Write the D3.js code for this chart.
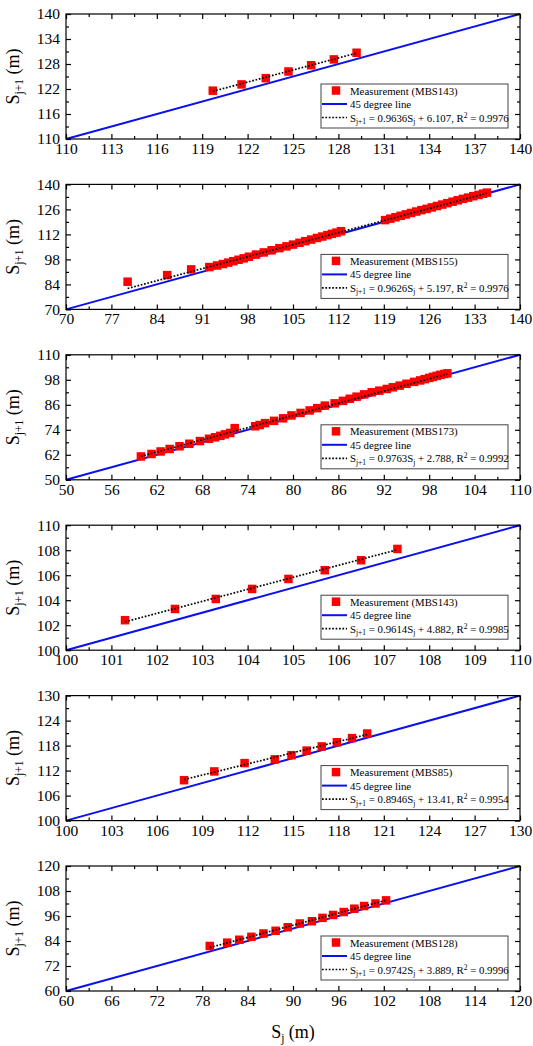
<!DOCTYPE html>
<html>
<head>
<meta charset="utf-8">
<script src="https://cdn.jsdelivr.net/npm/d3@7"></script>
<style>
  body { margin: 0; background: #fff; }
  svg { display: block; }
  svg text { font-family: "Liberation Serif", "Times New Roman", "DejaVu Serif", serif !important; fill: #000; }
</style>
</head>
<body>
<svg id="chart"></svg>
<script>
// Stations, regression coefficients and axis ranges (one entry per panel)
const stations = ["MBS143", "MBS155", "MBS173", "MBS143", "MBS85", "MBS128"];
const slopes = [0.9636, 0.9626, 0.9763, 0.9614, 0.8946, 0.9742];
const intercepts = [6.107, 5.197, 2.788, 4.882, 13.41, 3.889];
const r2 = [0.9976, 0.9976, 0.9992, 0.9985, 0.9954, 0.9996];

const xTicks = [
  [110, 113, 116, 119, 122, 125, 128, 131, 134, 137, 140],
  [70, 77, 84, 91, 98, 105, 112, 119, 126, 133, 140],
  [50, 56, 62, 68, 74, 80, 86, 92, 98, 104, 110],
  [100, 101, 102, 103, 104, 105, 106, 107, 108, 109, 110],
  [100, 103, 106, 109, 112, 115, 118, 121, 124, 127, 130],
  [60, 66, 72, 78, 84, 90, 96, 102, 108, 114, 120]
];
const yTicks = [
  [110, 116, 122, 128, 134, 140],
  [70, 84, 98, 112, 126, 140],
  [50, 62, 74, 86, 98, 110],
  [100, 102, 104, 106, 108, 110],
  [100, 106, 112, 118, 124, 130],
  [60, 72, 84, 96, 108, 120]
];

// Measurements: S_j (x) and S_j+1 (y)
const sj1x = [119.7, 121.6, 123.2, 124.7, 126.2, 127.7, 129.2];
const sj1y = [121.6, 123.1, 124.6, 126.2, 127.7, 129.1, 130.7];

const sj2x = [79.5, 85.6, 89.3, 92.1, 93.3, 94.2, 95.0, 95.8, 96.6, 97.4, 98.2, 99.3, 100.5,
  101.7, 102.9, 104.0, 105.0, 106.0, 106.9, 107.8, 108.7, 109.5, 110.3, 111.0, 111.7, 112.4,
  119.2, 120.0, 120.8, 121.6, 122.4, 123.2, 124.0, 124.8, 125.6, 126.4, 127.2, 128.0, 128.8,
  129.6, 130.4, 131.2, 132.0, 132.8, 133.6, 134.3, 134.9];
const sj2y = [85.5, 89.2, 92.4, 93.7, 94.6, 95.4, 96.2, 97.0, 97.8, 98.6, 99.5, 100.7, 101.9,
  103.1, 104.3, 105.3, 106.3, 107.3, 108.2, 109.1, 110.0, 110.8, 111.6, 112.3, 113.0, 113.8,
  120.0, 120.8, 121.6, 122.4, 123.2, 124.0, 124.8, 125.6, 126.3, 127.1, 127.9, 128.7, 129.5,
  130.3, 131.1, 131.9, 132.6, 133.4, 134.1, 134.8, 135.4];

const sj3x = [59.9, 61.3, 62.5, 63.7, 65.0, 66.3, 67.7, 68.9, 69.7, 70.4, 71.0, 71.7, 72.3,
  75.0, 75.6, 76.3, 77.5, 78.7, 79.8, 81.0, 82.2, 83.2, 84.2, 85.5, 86.6, 87.5, 88.4, 89.4,
  90.4, 91.4, 92.4, 93.2, 94.1, 95.0, 96.0, 96.8, 97.4, 98.0, 98.5, 99.0, 99.5, 100.0, 100.4];
const sj3y = [61.2, 62.4, 63.6, 64.8, 66.1, 67.3, 68.6, 69.7, 70.4, 71.1, 71.8, 72.5, 74.8,
  75.7, 76.3, 77.2, 78.3, 79.5, 80.9, 82.1, 83.3, 84.4, 85.6, 86.7, 87.9, 88.9, 89.9, 91.0,
  92.0, 92.8, 93.6, 94.4, 95.2, 96.1, 97.0, 97.7, 98.3, 98.9, 99.4, 99.9, 100.4, 100.8, 101.1];

const sj4x = [101.3, 102.4, 103.3, 104.1, 104.9, 105.7, 106.5, 107.3];
const sj4y = [102.4, 103.3, 104.1, 104.9, 105.7, 106.4, 107.2, 108.1];

const sj5x = [107.8, 109.8, 111.8, 113.8, 114.9, 115.9, 116.9, 117.9, 118.9, 119.9];
const sj5y = [109.7, 111.8, 113.8, 114.7, 115.7, 116.8, 117.8, 118.8, 119.8, 120.9];

const sj6x = [79.0, 81.3, 82.9, 84.5, 86.1, 87.7, 89.3, 90.9, 92.5, 93.9, 95.3, 96.7, 98.1,
  99.4, 100.9, 102.3];
const sj6y = [81.6, 83.2, 84.6, 86.0, 87.6, 88.9, 90.6, 92.4, 93.5, 95.1, 96.5, 97.9, 99.5,
  100.8, 102.0, 103.5];

const seriesX = [sj1x, sj2x, sj3x, sj4x, sj5x, sj6x];
const seriesY = [sj1y, sj2y, sj3y, sj4y, sj5y, sj6y];

// Layout
const W = 533, H = 1046;
const left = 66, plotW = 454, plotH = 125, firstTop = 14, pitch = 170.4;
const serif = "'Liberation Serif', 'Times New Roman', 'DejaVu Serif', serif";
const blue = "#0a10ee", red = "#ff0000";
const mk = 8.5;

const svg = d3.select("#chart").attr("width", W).attr("height", H)
  .attr("font-family", serif);

function minorOf(ticks) {
  return ticks.slice(1).map((t, i) => (t + ticks[i]) / 2);
}

stations.forEach((name, i) => {
  const top = firstTop + i * pitch;
  const xt = xTicks[i], yt = yTicks[i];
  const x = d3.scaleLinear().domain([xt[0], xt[xt.length - 1]]).range([0, plotW]);
  const y = d3.scaleLinear().domain([yt[0], yt[yt.length - 1]]).range([plotH, 0]);

  const g = svg.append("g").attr("transform", `translate(${left},${top})`);

  // 45 degree line
  g.append("line")
    .attr("x1", x(xt[0])).attr("y1", y(xt[0]))
    .attr("x2", x(xt[xt.length - 1])).attr("y2", y(xt[xt.length - 1]))
    .attr("stroke", blue).attr("stroke-width", 2);

  // Measurements
  const pts = seriesX[i].map((v, k) => [v, seriesY[i][k]]);
  g.selectAll("rect.pt")
    .data(pts)
    .join("rect")
    .attr("class", "pt")
    .attr("x", d => x(d[0]) - mk / 2)
    .attr("y", d => y(d[1]) - mk / 2)
    .attr("width", mk).attr("height", mk)
    .attr("fill", red);

  // Regression line
  const x0 = d3.min(seriesX[i]), x1 = d3.max(seriesX[i]);
  g.append("line")
    .attr("x1", x(x0)).attr("y1", y(slopes[i] * x0 + intercepts[i]))
    .attr("x2", x(x1)).attr("y2", y(slopes[i] * x1 + intercepts[i]))
    .attr("stroke", "#000").attr("stroke-width", 1.7)
    .attr("stroke-dasharray", "1.7,1.7");

  // Axes with inward ticks on all four sides
  const axes = [
    [d3.axisBottom(x), `translate(0,${plotH})`, xt, 4],
    [d3.axisTop(x), "translate(0,0)", xt, null],
    [d3.axisLeft(y), "translate(0,0)", yt, 6],
    [d3.axisRight(y), `translate(${plotW},0)`, yt, null]
  ];
  axes.forEach(([ax, tr, ticks, pad]) => {
    const major = g.append("g").attr("transform", tr)
      .call(ax.tickValues(ticks).tickSizeInner(-5).tickSizeOuter(0)
        .tickPadding(pad || 0)
        .tickFormat(pad ? d3.format("d") : ""));
    major.attr("font-family", serif).attr("font-size", 15.5);
    major.select(".domain").remove();
    major.selectAll("line").attr("stroke", "#000").attr("stroke-width", 1.2);

    const minor = g.append("g").attr("transform", tr)
      .call(ax.tickValues(minorOf(ticks)).tickSizeInner(-3).tickFormat(""));
    minor.select(".domain").remove();
    minor.selectAll("line").attr("stroke", "#000").attr("stroke-width", 1.2);
  });

  // Frame
  g.append("rect")
    .attr("width", plotW).attr("height", plotH)
    .attr("fill", "none").attr("stroke", "#000").attr("stroke-width", 1.2);

  // Y axis title
  const yl = g.append("text")
    .attr("transform", `translate(-47,${plotH / 2}) rotate(-90)`)
    .attr("text-anchor", "middle")
    .style("font-size", "18px");
  yl.append("tspan").text("S");
  yl.append("tspan").attr("dy", 4).style("font-size", "11.5px").text("j+1");
  yl.append("tspan").attr("dy", -4).text(" (m)");

  // Legend
  const lg = g.append("g").attr("transform", `translate(${plotW - 199},${plotH - 55})`);
  lg.append("rect").attr("width", 187).attr("height", 44)
    .attr("fill", "#fff").attr("stroke", "#444").attr("stroke-width", 1);
  const rows = [6.5, 20, 33.5];
  lg.append("rect").attr("x", 15 - mk / 2).attr("y", rows[0] - mk / 2)
    .attr("width", mk).attr("height", mk).attr("fill", red);
  lg.append("line").attr("x1", 1).attr("x2", 26).attr("y1", rows[1]).attr("y2", rows[1])
    .attr("stroke", blue).attr("stroke-width", 2);
  lg.append("line").attr("x1", 1).attr("x2", 26).attr("y1", rows[2]).attr("y2", rows[2])
    .attr("stroke", "#000").attr("stroke-width", 1.7).attr("stroke-dasharray", "1.7,1.7");

  const fs = "10.8px", sub = "7.5px";
  lg.append("text").attr("x", 29).attr("y", rows[0] + 4).style("font-size", fs)
    .text(`Measurement (${name})`);
  lg.append("text").attr("x", 29).attr("y", rows[1] + 4).style("font-size", fs)
    .text("45 degree line");
  const eq = lg.append("text").attr("x", 29).attr("y", rows[2] + 4).style("font-size", fs);
  eq.append("tspan").text("S");
  eq.append("tspan").attr("dy", 2.5).style("font-size", sub).text("j+1");
  eq.append("tspan").attr("dy", -2.5).text(` = ${slopes[i]}S`);
  eq.append("tspan").attr("dy", 2.5).style("font-size", sub).text("j");
  eq.append("tspan").attr("dy", -2.5).text(` + ${intercepts[i]}, R`);
  eq.append("tspan").attr("dy", -4).style("font-size", sub).text("2");
  eq.append("tspan").attr("dy", 4).text(` = ${r2[i]}`);
});

// X axis title
const xl = svg.append("text")
  .attr("x", left + plotW / 2).attr("y", 1038)
  .attr("text-anchor", "middle")
  .style("font-size", "18px");
xl.append("tspan").text("S");
xl.append("tspan").attr("dy", 4).style("font-size", "11.5px").text("j");
xl.append("tspan").attr("dy", -4).text(" (m)");
</script>
</body>
</html>
